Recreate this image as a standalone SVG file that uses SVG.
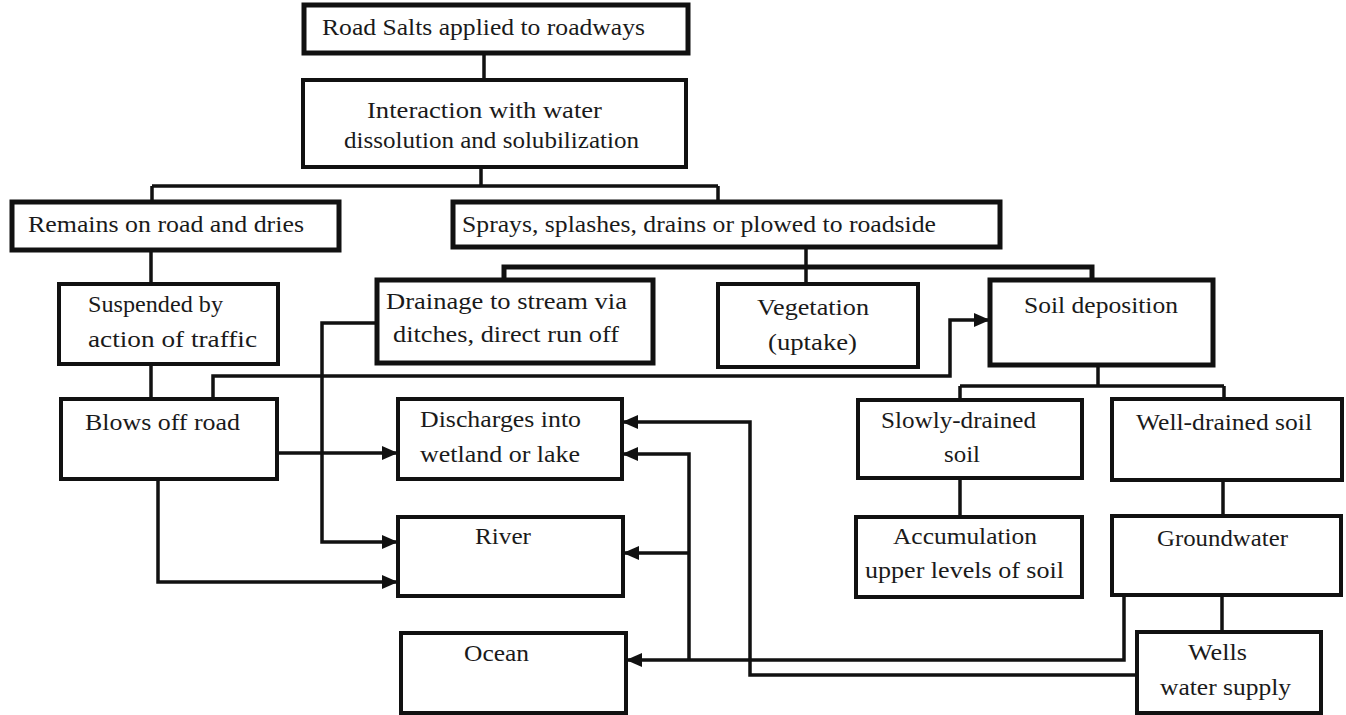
<svg xmlns="http://www.w3.org/2000/svg" width="1346" height="715" viewBox="0 0 1346 715">
<style>
.box{fill:#fff;stroke:#111;stroke-width:4}
.thick{stroke-width:5}
.t{font-family:"Liberation Serif","Times New Roman",serif;font-size:23px;fill:#1a1a1a}
.c{fill:none;stroke:#111;stroke-width:3.5}
.cb{fill:none;stroke:#111;stroke-width:5}
</style>
<defs>
<marker id="ah" markerWidth="16" markerHeight="14" refX="16" refY="7" orient="auto" markerUnits="userSpaceOnUse">
<path d="M0,0 L16,7 L0,14 z" fill="#111"/>
</marker>
</defs>
<rect width="1346" height="715" fill="#fff"/>
<g id="connectors">
<path class="c" d="M484,53 V80"/>
<path class="c" d="M481,167 V186 M152,186 H718 M152,186 V202 M718,186 V202"/>
<path class="c" d="M151,250 V284"/>
<path class="c" d="M151,364 V399"/>
<path class="c" d="M806,247 V284"/>
<path class="cb" d="M504,280 V267 H1092 V280"/>
<path class="c" d="M1098,365 V386 M960,386 H1224 M960,386 V400 M1224,386 V399"/>
<path class="c" d="M960,478 V517"/>
<path class="c" d="M1223,480 V516"/>
<path class="c" d="M1222,595 V632"/>
<path class="c" d="M213,399 V376 H950 V320 H990" marker-end="url(#ah)"/>
<path class="c" d="M377,323 H322 V542 H398" marker-end="url(#ah)"/>
<path class="c" d="M277,453 H398" marker-end="url(#ah)"/>
<path class="c" d="M158,479 V582 H398" marker-end="url(#ah)"/>
<path class="c" d="M1124,595 V660 H626" marker-end="url(#ah)"/>
<path class="c" d="M689,660 V454 H622" marker-end="url(#ah)"/>
<path class="c" d="M689,553 H623" marker-end="url(#ah)"/>
<path class="c" d="M1137,675 H750 V422 H622" marker-end="url(#ah)"/>
</g>
<g id="n1"><rect class="box thick" x="304" y="5" width="384" height="48"/>
<text class="t" x="322" y="35" textLength="323" lengthAdjust="spacingAndGlyphs">Road Salts applied to roadways</text></g>
<g id="n2"><rect class="box" x="303" y="80" width="383" height="87"/>
<text class="t" x="367" y="118" textLength="235" lengthAdjust="spacingAndGlyphs">Interaction with water</text>
<text class="t" x="344" y="148" textLength="295" lengthAdjust="spacingAndGlyphs">dissolution and solubilization</text></g>
<g id="n3"><rect class="box thick" x="12" y="202" width="327" height="48"/>
<text class="t" x="28" y="232" textLength="276" lengthAdjust="spacingAndGlyphs">Remains on road and dries</text></g>
<g id="n4"><rect class="box thick" x="453" y="202" width="547" height="45"/>
<text class="t" x="462" y="232" textLength="474" lengthAdjust="spacingAndGlyphs">Sprays, splashes, drains or plowed to roadside</text></g>
<g id="n5"><rect class="box" x="59" y="284" width="219" height="80"/>
<text class="t" x="88" y="312" textLength="135" lengthAdjust="spacingAndGlyphs">Suspended by</text>
<text class="t" x="88" y="347" textLength="169" lengthAdjust="spacingAndGlyphs">action of traffic</text></g>
<g id="n6"><rect class="box thick" x="377" y="280" width="276" height="83"/>
<text class="t" x="386" y="309" textLength="241" lengthAdjust="spacingAndGlyphs">Drainage to stream via</text>
<text class="t" x="393" y="342" textLength="226" lengthAdjust="spacingAndGlyphs">ditches, direct run off</text></g>
<g id="n7"><rect class="box" x="718" y="284" width="200" height="83"/>
<text class="t" x="757" y="315" textLength="112" lengthAdjust="spacingAndGlyphs">Vegetation</text>
<text class="t" x="768" y="350" textLength="89" lengthAdjust="spacingAndGlyphs">(uptake)</text></g>
<g id="n8"><rect class="box thick" x="990" y="280" width="223" height="85"/>
<text class="t" x="1024" y="313" textLength="154" lengthAdjust="spacingAndGlyphs">Soil deposition</text></g>
<g id="n9"><rect class="box" x="61" y="399" width="216" height="80"/>
<text class="t" x="85" y="430" textLength="155" lengthAdjust="spacingAndGlyphs">Blows off road</text></g>
<g id="n10"><rect class="box" x="398" y="399" width="224" height="80"/>
<text class="t" x="420" y="427" textLength="161" lengthAdjust="spacingAndGlyphs">Discharges into</text>
<text class="t" x="420" y="462" textLength="160" lengthAdjust="spacingAndGlyphs">wetland or lake</text></g>
<g id="n11"><rect class="box" x="398" y="517" width="225" height="79"/>
<text class="t" x="475" y="544" textLength="56" lengthAdjust="spacingAndGlyphs">River</text></g>
<g id="n12"><rect class="box" x="401" y="633" width="225" height="80"/>
<text class="t" x="464" y="661" textLength="65" lengthAdjust="spacingAndGlyphs">Ocean</text></g>
<g id="n13"><rect class="box" x="858" y="400" width="224" height="78"/>
<text class="t" x="881" y="428" textLength="155" lengthAdjust="spacingAndGlyphs">Slowly-drained</text>
<text class="t" x="944" y="462" textLength="36" lengthAdjust="spacingAndGlyphs">soil</text></g>
<g id="n14"><rect class="box" x="1112" y="399" width="230" height="81"/>
<text class="t" x="1136" y="430" textLength="176" lengthAdjust="spacingAndGlyphs">Well-drained soil</text></g>
<g id="n15"><rect class="box" x="856" y="517" width="226" height="80"/>
<text class="t" x="893" y="544" textLength="144" lengthAdjust="spacingAndGlyphs">Accumulation</text>
<text class="t" x="865" y="578" textLength="199" lengthAdjust="spacingAndGlyphs">upper levels of soil</text></g>
<g id="n16"><rect class="box" x="1112" y="516" width="229" height="79"/>
<text class="t" x="1157" y="546" textLength="131" lengthAdjust="spacingAndGlyphs">Groundwater</text></g>
<g id="n17"><rect class="box" x="1137" y="632" width="184" height="81"/>
<text class="t" x="1188" y="660" textLength="59" lengthAdjust="spacingAndGlyphs">Wells</text>
<text class="t" x="1160" y="695" textLength="131" lengthAdjust="spacingAndGlyphs">water supply</text></g>
</svg>
